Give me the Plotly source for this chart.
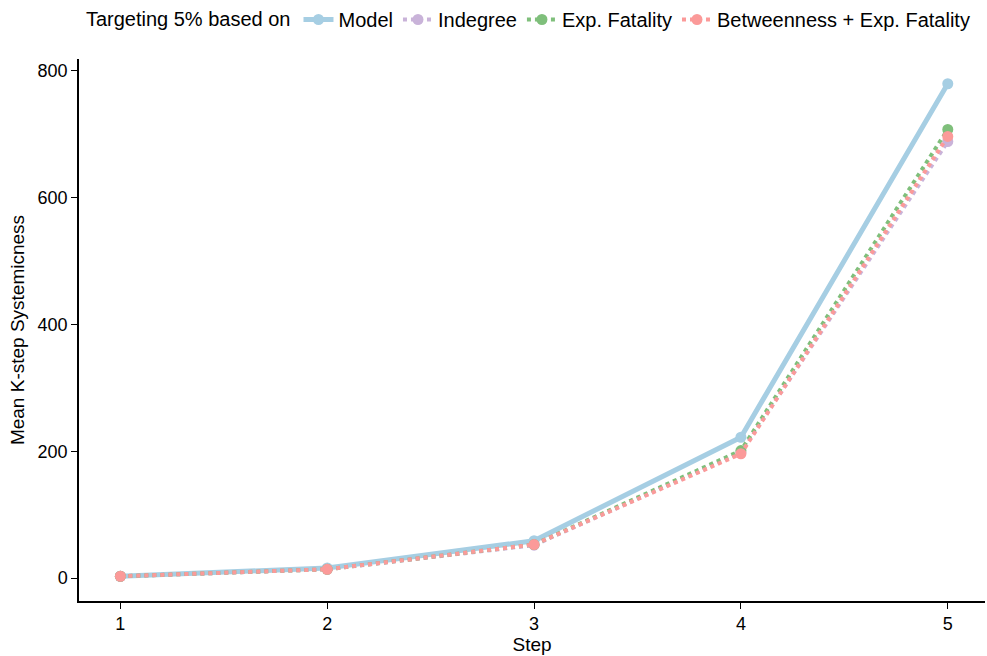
import plotly.graph_objects as go

steps = [1, 2, 3, 4, 5]
model = [3, 16, 59, 222, 779]
indegree = [3, 14, 52, 198, 688]
exp_fatality = [3, 14, 53, 201, 707]
betweenness = [3, 14, 53, 196, 696]

series = [
    ("Model", model, "#a6cee3", "solid", 5),
    ("Indegree", indegree, "#c9b3d9", "dot", 4),
    ("Exp. Fatality", exp_fatality, "#7fbf7b", "dot", 4),
    ("Betweenness + Exp. Fatality", betweenness, "#fb9a99", "dot", 4),
]

fig = go.Figure()
for name, vals, color, dash, w in series:
    fig.add_trace(go.Scatter(
        x=steps, y=vals, name=name, mode="lines+markers",
        line=dict(color=color, width=w, dash=dash),
        marker=dict(color=color, size=11),
    ))

axis_common = dict(
    showline=True, linecolor="black", linewidth=1.5,
    ticks="outside", ticklen=6, tickcolor="black", tickwidth=1.2,
    showgrid=False, zeroline=False, automargin=False,
    tickfont=dict(size=18, color="black"),
)

fig.update_layout(
    width=987, height=656,
    paper_bgcolor="white", plot_bgcolor="white",
    font=dict(family="Liberation Sans, Arial, sans-serif", size=19, color="black"),
    margin=dict(l=79, r=2, t=59, b=55),
    xaxis=dict(range=[0.8, 5.18], tickvals=steps, ticktext=[str(s) for s in steps],
               title=dict(text="Step", standoff=4, font=dict(size=19)), **axis_common),
    yaxis=dict(range=[-36, 818], tickvals=[0, 200, 400, 600, 800],
               title=dict(text="Mean K-step Systemicness", standoff=8, font=dict(size=19)), **axis_common),
    legend=dict(orientation="h", x=0.085, xanchor="left", xref="container",
                y=1.0, yanchor="top", yref="container", font=dict(size=20),
                title=dict(text="Targeting 5% based on", font=dict(size=20), side="left"),
                itemwidth=30, tracegroupgap=0, bgcolor="rgba(0,0,0,0)"),
)

fig.write_html("out.html", config={"displayModeBar": False},
               post_script="document.body.style.margin='0';")
